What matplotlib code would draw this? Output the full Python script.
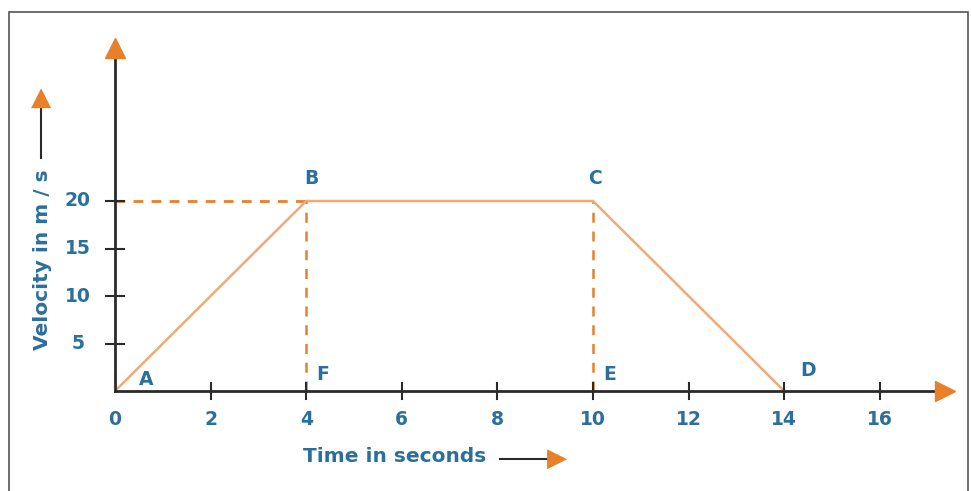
import numpy as np
import matplotlib
matplotlib.use("Agg")
from matplotlib import pyplot as plt
from matplotlib.patches import Rectangle

# data
times = [0, 4, 10, 14]
velocity = [0, 20, 20, 0]
point_names = ['A', 'B', 'C', 'D']
drop_x = [4, 10]
drop_names = ['F', 'E']
xticks = [0, 2, 4, 6, 8, 10, 12, 14, 16]
yticks = [5, 10, 15, 20]

BLUE = '#2b6f9c'
ORANGE = '#e8802a'
LINE = '#f0aa78'
AXIS = '#2a2a2a'

W, H = 971, 491
fig = plt.figure(figsize=(W / 100, H / 100), dpi=100)
fig.patch.set_facecolor('white')

# pixel geometry of the original picture
x0, y0 = 115, 391        # origin
px_x = 47.8              # pixels per second
px_y = 9.5               # pixels per m/s
x_end, y_end = 957, 36

xmax = (x_end - x0) / px_x
ymax = (y0 - y_end) / px_y
ax = fig.add_axes([x0 / W, (H - y0) / H, (x_end - x0) / W, (y0 - y_end) / H])
ax.set_xlim(0, xmax)
ax.set_ylim(0, ymax)
ax.axis('off')

# frame around the picture
fig.patches.append(Rectangle((9 / W, -0.05), (968 - 9) / W, (H - 12) / H + 0.05,
                             transform=fig.transFigure, fill=False,
                             edgecolor='#555555', lw=1.2))

# axes with arrows
ax.plot([0, 0], [0, ymax - 2.0], color=AXIS, lw=2, clip_on=False, zorder=3)
ax.plot([0, xmax - 0.35], [0, 0], color=AXIS, lw=2, clip_on=False, zorder=3)
ax.plot([0], [ymax - 1.3], marker='^', ms=15, color=ORANGE, clip_on=False, zorder=4)
ax.plot([xmax - 0.25], [0], marker='>', ms=15, color=ORANGE, clip_on=False, zorder=4)

TICKFONT = dict(color=BLUE, fontsize=13.5, fontweight='bold', ha='center', va='center')

# ticks (crossing the axes)
for t in xticks[1:]:
    ax.plot([t, t], [-0.8, 0.8], color=AXIS, lw=1.5, clip_on=False, zorder=3)
    ax.text(t, -3.0, str(t), **TICKFONT)
ax.text(0, -3.0, '0', **TICKFONT)
for v in yticks:
    ax.plot([-0.18, 0.18], [v, v], color=AXIS, lw=1.5, clip_on=False, zorder=3)
    ax.text(-0.78, v, str(v), **TICKFONT)

# dashed guides
ax.plot([0, times[1]], [velocity[1], velocity[1]], ls=(0, (3.5, 3)), color=ORANGE,
        lw=2, zorder=2)
for d in drop_x:
    ax.plot([d, d], [0, velocity[1]], ls=(0, (4, 3.5)), color=ORANGE, lw=1.8, zorder=2)

# velocity-time graph
ax.plot(times, velocity, color=LINE, lw=1.8, zorder=2)

# point labels
offsets = [(0.65, 1.2), (0.1, 2.4), (0.05, 2.4), (0.5, 2.2)]
for t, v, n, (dx, dy) in zip(times, velocity, point_names, offsets):
    ax.text(t + dx, v + dy, n, **TICKFONT)
for d, n in zip(drop_x, drop_names):
    ax.text(d + 0.35, 1.7, n, **TICKFONT)

# axis titles
fig.text(42 / W, 1 - 260 / H, 'Velocity in m / s', rotation=90, color=BLUE,
         fontsize=14.5, fontweight='bold', ha='center', va='center')
fig.add_artist(plt.Line2D([41 / W, 41 / W], [1 - 158 / H, 1 - 105 / H], color=AXIS,
                          lw=1.5, transform=fig.transFigure))
fig.text(41 / W, 1 - 98 / H, '\u25B2', color=ORANGE, fontsize=19,
         ha='center', va='center')
fig.text(395 / W, 1 - 457 / H, 'Time in seconds', color=BLUE,
         fontsize=14.5, fontweight='bold', ha='center', va='center')
fig.add_artist(plt.Line2D([500 / W, 548 / W], [1 - 459 / H, 1 - 459 / H], color=AXIS,
                          lw=1.5, transform=fig.transFigure))
fig.text(557 / W, 1 - 459 / H, '\u25B6', color=ORANGE, fontsize=19,
         ha='center', va='center')

fig.savefig('out.png', dpi=100, facecolor='white')
